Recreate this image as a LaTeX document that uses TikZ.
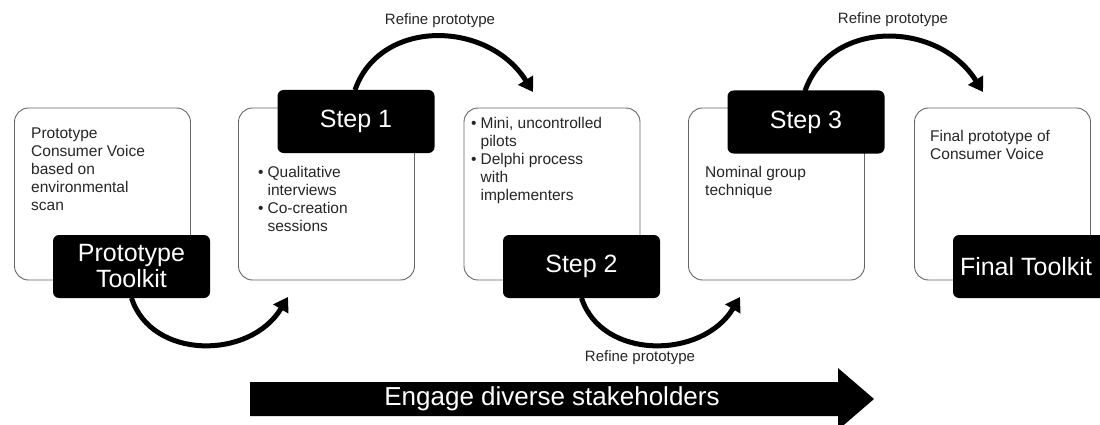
\documentclass[tikz,border=0pt]{standalone}
\usepackage{fontspec}
\setmainfont{Liberation Sans}
\usetikzlibrary{arrows.meta}
\begin{document}
\begin{tikzpicture}[x=1pt,y=-1pt,
  card/.style={draw=black!60, line width=0.9pt, rounded corners=14pt, fill=white,
    minimum width=176pt, minimum height=172pt, inner sep=0pt},
  tag/.style={fill=black, text=white, rounded corners=6pt, minimum width=157pt,
    minimum height=63pt, inner sep=0pt, align=center, font=\fontsize{25}{26}\selectfont},
  body/.style={anchor=north west, inner sep=0pt, align=left, text=black!85,
    font=\fontsize{15.5}{18}\selectfont},
  loop/.style={line width=5pt, -{Triangle[length=14pt,width=17pt]}},
  note/.style={font=\fontsize{15}{17}\selectfont, text=black!85}
]
\useasboundingbox (0,0) rectangle (1100,425);

% content cards
\node[card] (c1) at (102.5,194) {};
\node[card] (c2) at (326.5,194) {};
\node[card] (c3) at (552,194) {};
\node[card] (c4) at (776.5,194) {};
\node[card] (c5) at (1002.5,194) {};

% card texts
\node[body] (t1) at (31,128) {Prototype\\Consumer Voice\\based on\\environmental\\scan};
\node[body] (t2) at (258,165) {\begin{tabular}{@{}l@{\hspace{4pt}}l@{}}
  • & Qualitative\\ & interviews\\ • & Co-creation\\ & sessions\end{tabular}};
\node[body] (t3) at (471,116) {\begin{tabular}{@{}l@{\hspace{4pt}}l@{}}
  • & Mini, uncontrolled\\ & pilots\\ • & Delphi process\\ & with\\ & implementers\end{tabular}};
\node[body] (t4) at (705,166) {Nominal group\\technique};
\node[body] (t5) at (930,130) {Final prototype of\\Consumer Voice};

% loop end points on the stage tags and near the next cards
\coordinate (ptS) at (131.5,298);
\coordinate (s1N) at (355,90);
\coordinate (s2S) at (581.5,298);
\coordinate (s3N) at (805,91);
\coordinate (e1) at (288,297);
\coordinate (e2) at (533,92);
\coordinate (e3) at (740,297);
\coordinate (e4) at (983,92);

% refine loops
\draw[loop] (ptS) .. controls +(20,62) and +(-38,63) .. (e1);
\draw[loop] (s1N) .. controls +(25,-72) and +(-45,-72) .. (e2);
\draw[loop] (s2S) .. controls +(20,62) and +(-38,63) .. (e3);
\draw[loop] (s3N) .. controls +(25,-72) and +(-45,-72) .. (e4);

\node[note] (r1) at (440,21) {Refine prototype};
\node[note] (r2) at (893,20) {Refine prototype};
\node[note] (r3) at (640,358) {Refine prototype};

% stage tags
\node[tag] (pt) at (131.5,266.5) {Prototype\\Toolkit};
\node[tag] (s1) at (356,121.5) {Step 1};
\node[tag] (s2) at (581.5,266.5) {Step 2};
\node[tag] (s3) at (806,122) {Step 3};
\node[tag] (ft) at (1031.5,266.5) {Final Toolkit\hspace{11pt}};

% stakeholder arrow
\fill (250,382) -- (838,382) -- (838,368) -- (874,399) -- (838,430)
  -- (838,416) -- (250,416) -- cycle;
\node[text=white, font=\fontsize{26}{28}\selectfont] (eng) at (552,399) {Engage diverse stakeholders};
\end{tikzpicture}
\end{document}
